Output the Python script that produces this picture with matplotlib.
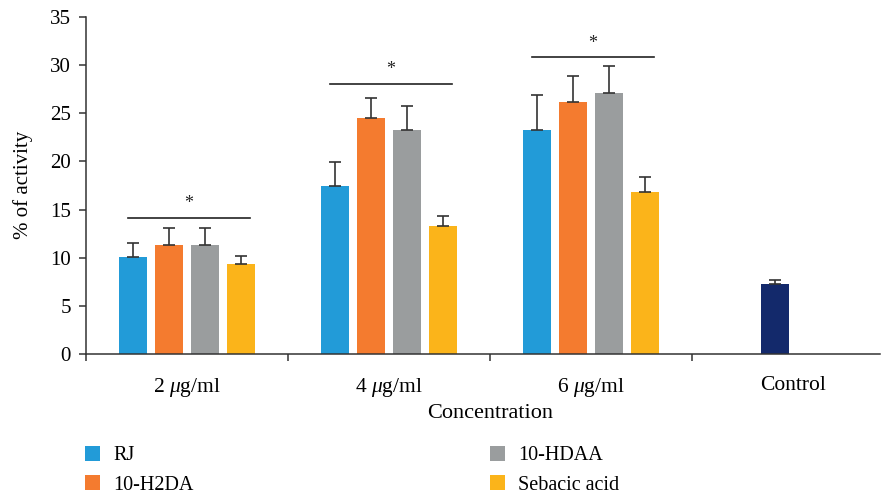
import matplotlib
matplotlib.use("Agg")
import matplotlib.pyplot as plt
from matplotlib.patches import Patch
import numpy as np

plt.rcParams['font.family'] = ['Liberation Serif', 'DejaVu Serif']
plt.rcParams['mathtext.fontset'] = 'custom'
plt.rcParams['mathtext.rm'] = 'Liberation Serif'
plt.rcParams['mathtext.it'] = 'Liberation Serif:italic'

categories = [r'2 $\mu$g/ml', r'4 $\mu$g/ml', r'6 $\mu$g/ml', 'Control']
series = ['RJ', '10-H2DA', '10-HDAA', 'Sebacic acid']
rj = [10.1, 17.45, 23.3]
h2da = [11.35, 24.5, 26.2]
hdaa = [11.35, 23.3, 27.1]
sebacic = [9.35, 13.3, 16.8]
rj_err = [1.45, 2.45, 3.55]
h2da_err = [1.75, 2.1, 2.65]
hdaa_err = [1.75, 2.45, 2.8]
sebacic_err = [0.85, 1.05, 1.55]
control = 7.25
control_err = 0.45
sig_y = [14.15, 28.05, 30.8]

colors = ['#229BD8', '#F47B2F', '#9A9D9E', '#FBB41A']
control_color = '#13296B'
err_color = '#333333'

fig = plt.figure(figsize=(8.84, 4.94), dpi=100)
ax = fig.add_axes([86/884, 1-354/494, 794/884, 337/494])

pitch = 36/202
width = 28/202
vals = [rj, h2da, hdaa, sebacic]
errs = [rj_err, h2da_err, hdaa_err, sebacic_err]
x = np.arange(3)
for j, (v, e, c) in enumerate(zip(vals, errs, colors)):
    xs = x + (j - 1.5) * pitch
    ax.bar(xs, v, width=width, color=c, zorder=2)
    ax.errorbar(xs, v, yerr=[np.zeros(3), e], fmt='none', ecolor=err_color,
                elinewidth=1.2, capsize=4, capthick=1.2, zorder=3)

cx = 3 + (1 - 1.5) * pitch
ax.bar([cx], [control], width=width, color=control_color, zorder=2)
ax.errorbar([cx], [control], yerr=[[0], [control_err]], fmt='none', ecolor=err_color,
            elinewidth=1.2, capsize=4, capthick=1.2, zorder=3)

for i, y in enumerate(sig_y):
    ax.plot([i - 0.29, i + 0.31], [y, y], color='#222222', lw=1.2, zorder=3)
    ax.text(i + 0.01, y + 0.6, '*', ha='center', va='bottom', fontsize=13, color='#222222')

ax.set_ylim(0, 35)
ax.set_xlim(-0.5, (880 - 86) / 202 - 0.5)
ax.set_yticks(np.arange(0, 36, 5))
ax.tick_params(axis='y', labelsize=15, length=5, width=1.1, color='#333333', pad=6)

ax.set_xticks([-0.5, 0.5, 1.5, 2.5])
ax.set_xticklabels([])
ax.set_xticks(np.arange(4), minor=True)
ax.set_xticklabels(categories, minor=True)
ax.tick_params(axis='x', which='major', length=5, width=1.1, color='#333333', direction='out')
ax.tick_params(axis='x', which='minor', length=0, labelsize=15.5, pad=15.5)

for s in ['top', 'right']:
    ax.spines[s].set_visible(False)
for s in ['left', 'bottom']:
    ax.spines[s].set_linewidth(1.1)
    ax.spines[s].set_color('#333333')

ax.set_ylabel('% of activity', fontsize=15)
ax.yaxis.set_label_coords((33 - 86) / 794, (354 - 185) / 337)
ax.set_xlabel('Concentration', fontsize=16)
ax.xaxis.set_label_coords((490 - 86) / 794, (354 - 404) / 337)

handles = [Patch(facecolor=c, edgecolor='none') for c in colors]
leg_kw = dict(frameon=False, fontsize=14.5, handlelength=0.75, handleheight=0.75,
              handletextpad=0.65, labelspacing=0.5, borderaxespad=0, borderpad=0)
fig.legend(handles[:2], series[:2], loc='upper left',
           bbox_to_anchor=(85/884, 1 - 446/494), **leg_kw)
fig.legend(handles[2:], series[2:], loc='upper left',
           bbox_to_anchor=(490/884, 1 - 446/494), **leg_kw)

fig.savefig('out.png', dpi=100)
